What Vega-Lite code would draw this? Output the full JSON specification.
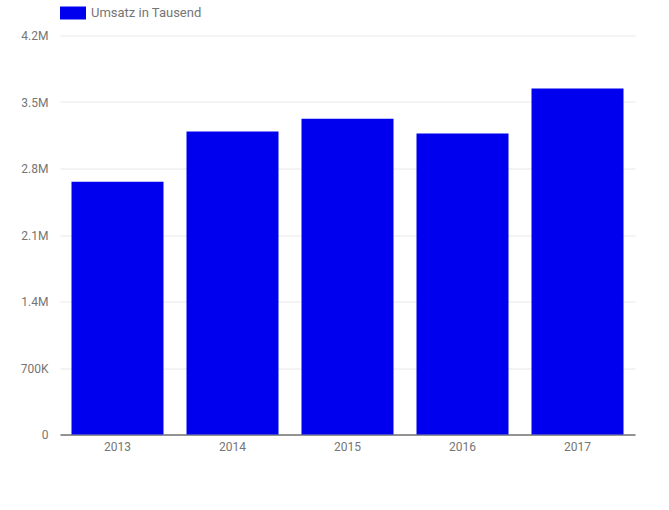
{
  "$schema": "https://vega.github.io/schema/vega-lite/v6.json",
  "autosize": {"type": "none"},
  "width": 575,
  "height": 399,
  "padding": {"left": 60, "top": 35.5, "right": 34, "bottom": 75.5},
  "background": "#ffffff",
  "data": {
    "values": [
      {"Jahr": "2013", "Umsatz": 2660000},
      {"Jahr": "2014", "Umsatz": 3190000},
      {"Jahr": "2015", "Umsatz": 3325000},
      {"Jahr": "2016", "Umsatz": 3168000},
      {"Jahr": "2017", "Umsatz": 3642000}
    ]
  },
  "mark": {"type": "bar"},
  "encoding": {
    "x": {
      "field": "Jahr",
      "type": "ordinal",
      "scale": {"paddingInner": 0.2, "paddingOuter": 0.1},
      "axis": {
        "title": null,
        "labelAngle": 0,
        "ticks": false,
        "domainColor": "#333333",
        "labelColor": "#757575",
        "labelFont": "Roboto",
        "labelFontSize": 12,
        "labelPadding": 7,
        "grid": false
      }
    },
    "y": {
      "field": "Umsatz",
      "type": "quantitative",
      "scale": {"domain": [0, 4200000], "nice": false},
      "axis": {
        "title": null,
        "values": [0, 700000, 1400000, 2100000, 2800000, 3500000, 4200000],
        "labelExpr": "datum.value == 0 ? '0' : (datum.value >= 1000000 ? format(datum.value / 1000000, '.1f') + 'M' : format(datum.value / 1000, 'd') + 'K')",
        "domain": false,
        "ticks": false,
        "gridColor": "#e8e8e8",
        "labelColor": "#757575",
        "labelFont": "Roboto",
        "labelFontSize": 12,
        "labelPadding": 12
      }
    },
    "color": {
      "datum": "Umsatz in Tausend",
      "type": "nominal",
      "scale": {"range": ["#0000ee"]},
      "legend": {
        "title": null,
        "orient": "none",
        "legendX": 0,
        "legendY": -35.5,
        "symbolType": "M-1,-0.5h2v1h-2z",
        "symbolSize": 676,
        "symbolStrokeWidth": 0,
        "labelFont": "Roboto",
        "labelFontSize": 13,
        "labelColor": "#757575",
        "labelOffset": 5
      }
    }
  },
  "config": {
    "view": {"stroke": null}
  }
}
